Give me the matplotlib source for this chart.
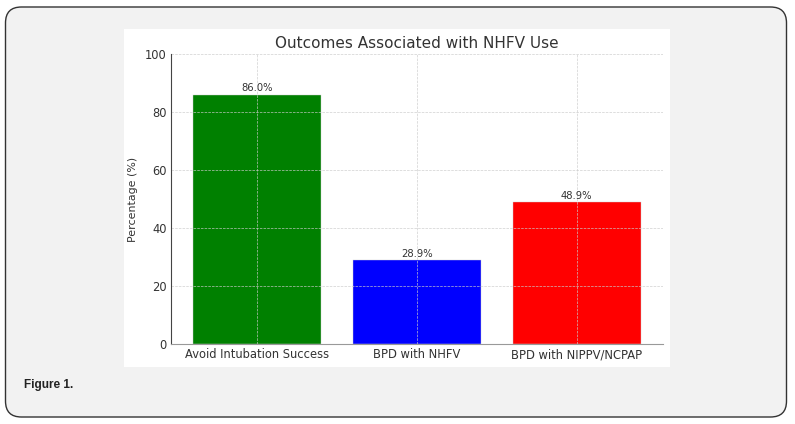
import matplotlib
matplotlib.use('Agg')
import matplotlib.pyplot as plt
from matplotlib.patches import FancyBboxPatch, Rectangle

plt.rcParams['font.family'] = 'DejaVu Sans'

# %% Data
categories = ['Avoid Intubation Success', 'BPD with NHFV', 'BPD with NIPPV/NCPAP']
values = [86.0, 28.9, 48.9]
bar_colors = ['green', 'blue', 'red']

W, H = 795, 424
fig = plt.figure(figsize=(W / 100, H / 100), dpi=100)
fig.patch.set_facecolor('white')

# page frame with rounded border
frame = FancyBboxPatch((5.5 / W, 7 / H), 781 / W, 410 / H,
                       boxstyle='round,pad=0,rounding_size=0.02',
                       transform=fig.transFigure, facecolor='#f2f2f2',
                       edgecolor='#333333', linewidth=1.0, mutation_aspect=W / H,
                       zorder=-10)
fig.add_artist(frame)

# white panel holding the chart image
panel = Rectangle((124 / W, 1 - 367 / H), 546 / W, 338 / H,
                  transform=fig.transFigure, facecolor='white', edgecolor='none',
                  zorder=-5)
fig.add_artist(panel)

fig.text(24 / W, 1 - 385 / H, 'Figure 1.', fontsize=8.5, fontweight='bold',
         fontstretch='normal', color='#222222', family='Liberation Sans',
         va='center')

# %% Chart
ax = fig.add_axes([171 / W, 1 - 344 / H, (663 - 171) / W, (344 - 54) / H])
ax.set_facecolor('white')
bars = ax.bar(categories, values, color=bar_colors, width=0.8,
              edgecolor='#cccccc', linewidth=0.3)
ax.set_ylim(0, 100)
ax.set_yticks([0, 20, 40, 60, 80, 100])
ax.grid(True, linestyle='--', linewidth=0.5, color='#cccccc', alpha=0.9)

for b, v in zip(bars, values):
    ax.text(b.get_x() + b.get_width() / 2, v + 0.5, f'{v:.1f}%',
            ha='center', va='bottom', fontsize=7.2, color='#333333')

ax.set_title('Outcomes Associated with NHFV Use', fontsize=11, color='#333333', pad=4)
ax.set_ylabel('Percentage (%)', fontsize=7.9, color='#333333', labelpad=5)
ax.tick_params(axis='both', labelsize=8.3, colors='#333333', length=0, pad=3)
for s in ['top', 'right']:
    ax.spines[s].set_visible(False)
ax.spines['left'].set_color('#444444')
ax.spines['bottom'].set_color('#999999')

fig.savefig('out.png', dpi=100)
